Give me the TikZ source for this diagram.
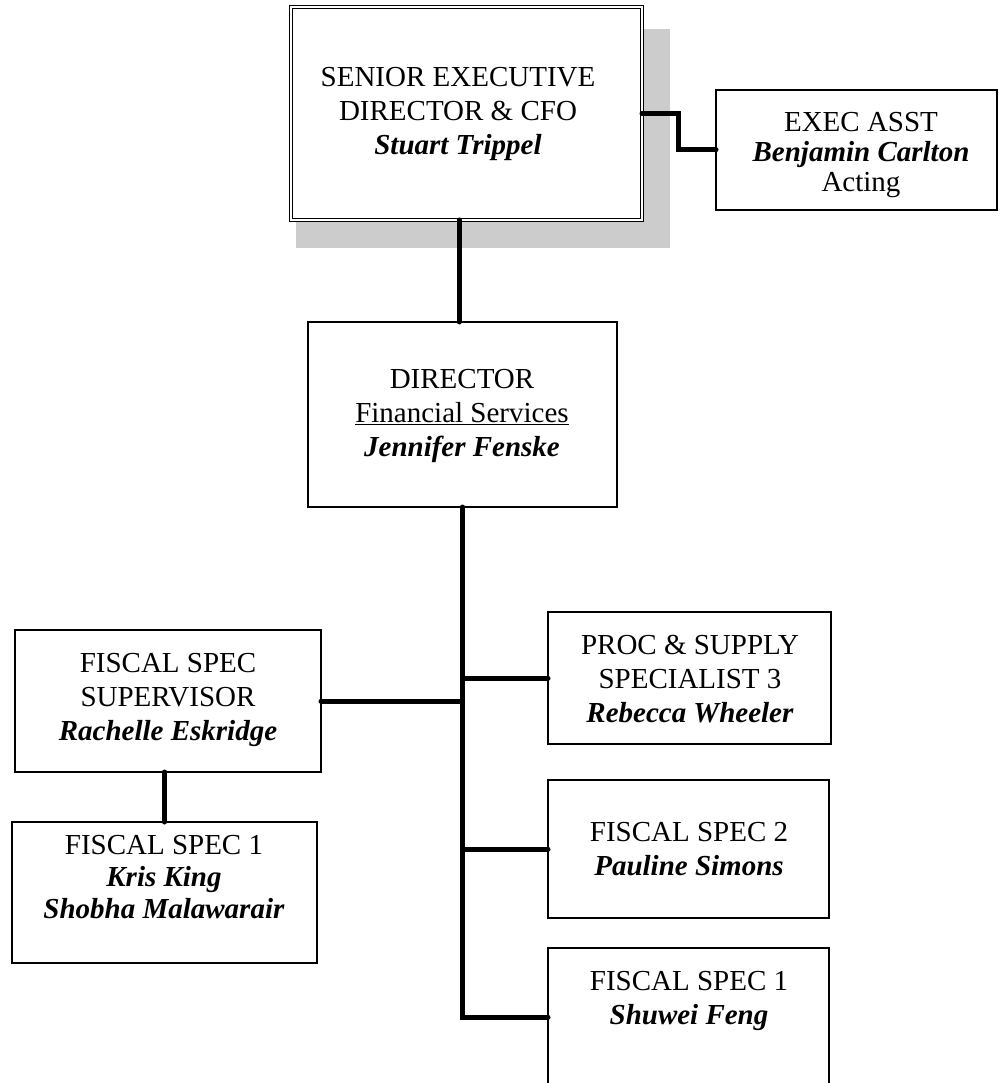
\documentclass[tikz,border=0pt]{standalone}
\usepackage{fontspec}
\setmainfont{Liberation Serif}
\begin{document}
\begin{tikzpicture}[x=1pt,y=-1pt,
  box/.style={draw=black,line width=1.2pt,fill=white,rectangle,inner sep=0pt,outer sep=0pt},
  txt/.style={align=center,inner sep=0pt,font=\fontsize{29}{34}\selectfont},
  conn/.style={draw=black,line width=5pt,line cap=round,line join=miter}]
\clip (0,0) rectangle (999,1083);
% shadow of top box
\fill[black!20] (296,29) rectangle (670,248);
% boxes
\node[box,double,double distance=2pt,minimum width=351pt,minimum height=213pt] (top) at (466.5,113.5) {};
\node[box,minimum width=281pt,minimum height=120pt] (exec) at (856.5,150) {};
\node[box,minimum width=309pt,minimum height=185pt] (dir) at (462.5,414.5) {};
\node[box,minimum width=306pt,minimum height=142pt] (sup) at (168,701) {};
\node[box,minimum width=305pt,minimum height=141pt] (fsl) at (164.5,892.5) {};
\node[box,minimum width=283pt,minimum height=132pt] (proc) at (689.5,678) {};
\node[box,minimum width=281pt,minimum height=138pt] (fs2) at (688.5,849) {};
\node[box,minimum width=281pt,minimum height=138pt] (fsr) at (688.5,1017) {};
% texts
\node[txt] (toptext) at (458,114) {SENIOR EXECUTIVE\\DIRECTOR \& CFO\\\textbf{\textit{Stuart Trippel}}};
\node[txt,font=\fontsize{29}{30}\selectfont] (exectext) at (861,155) {EXEC ASST\\\textbf{\textit{Benjamin Carlton}}\\Acting};
\node[txt] (dirtext) at (462,416) {DIRECTOR\\\underline{Financial Services}\\\textbf{\textit{Jennifer Fenske}}};
\node[txt] (suptext) at (168,700) {FISCAL SPEC\\SUPERVISOR\\\textbf{\textit{Rachelle Eskridge}}};
\node[txt,font=\fontsize{29}{32}\selectfont] (fsltext) at (164,877) {FISCAL SPEC 1\\\textbf{\textit{Kris King}}\\\textbf{\textit{Shobha Malawarair}}};
\node[txt] (proctext) at (690,679) {PROC \& SUPPLY\\SPECIALIST 3\\\textbf{\textit{Rebecca Wheeler}}};
\node[txt] (fs2text) at (689,849) {FISCAL SPEC 2\\\textbf{\textit{Pauline Simons}}};
\node[txt] (fsrtext) at (689,1001) {FISCAL SPEC 1\\\textbf{\textit{Shuwei Feng}}};
% connectors
\draw[conn] (top.east) -- ++(36,0) |- (exec.west);
\draw[conn] ([xshift=-3.5pt]dir.north) -- ([xshift=-3.5pt]dir.north |- top.south);
\draw[conn] (dir.south) |- (fsr.west);
\draw[conn] (dir.south |- proc.west) -- (proc.west);
\draw[conn] (dir.south |- fs2.west) -- (fs2.west);
\draw[conn] (sup.east) -- (sup.east -| dir.south);
\draw[conn] (fsl.north) -- (fsl.north |- sup.south);
\end{tikzpicture}
\end{document}
